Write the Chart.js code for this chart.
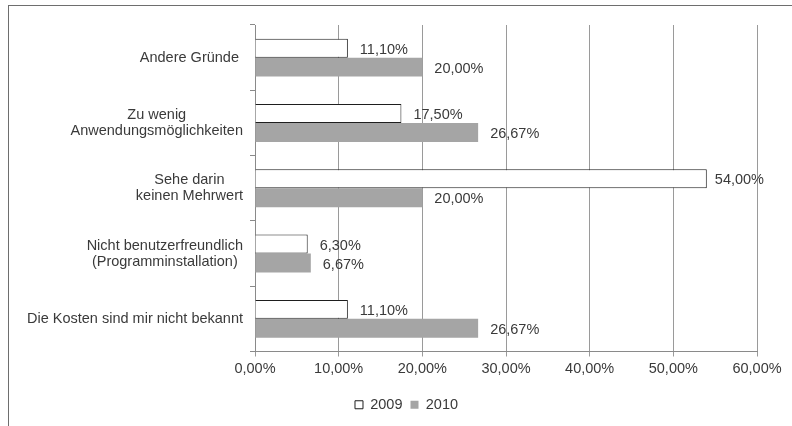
<!DOCTYPE html>
<html>
<head>
<meta charset="utf-8">
<script src="https://cdn.jsdelivr.net/npm/chart.js@4"></script>
<style>
  html, body { margin: 0; padding: 0; background: #fff; }
  #wrap { position: relative; width: 792px; height: 426px; overflow: hidden; }
  #frame { position: absolute; left: 8px; top: 5px; width: 800px; height: 440px;
           border-left: 1px solid #6e6e6e; border-top: 1px solid #6e6e6e; pointer-events: none; }
  canvas { position: absolute; left: 0; top: 0; }
</style>
</head>
<body>
<div id="wrap">
  <canvas id="chart" width="792" height="426"></canvas>
  <div id="frame"></div>
</div>
<script>
// data
const categories = [
  ['Andere Gründe '],
  ['Zu wenig', 'Anwendungsmöglichkeiten'],
  ['Sehe darin', 'keinen Mehrwert'],
  ['Nicht benutzerfreundlich', '(Programminstallation)'],
  ['Die Kosten sind mir nicht bekannt']
];
const seriesNames = ['2009', '2010'];
const values2009 = [11.10, 17.50, 54.00, 6.30, 11.10];
const values2010 = [20.00, 26.67, 20.00, 6.67, 26.67];
const xTicks = [0, 10, 20, 30, 40, 50, 60];

const TEXT = '#3a3a3a';
const FONT_SIZE = 14.5;
const FONT_FAMILY = '"Liberation Sans", Arial, sans-serif';
const FONT = FONT_SIZE + 'px ' + FONT_FAMILY;

function pct(v) {
  return v.toFixed(2).replace('.', ',') + '%';
}

// category labels: block right-aligned at the axis, lines centred in the block
const categoryLabels = {
  id: 'categoryLabels',
  afterDraw(chart) {
    const ctx = chart.ctx;
    const y = chart.scales.y;
    const right = chart.chartArea.left - 12;
    ctx.save();
    ctx.font = FONT;
    ctx.fillStyle = TEXT;
    ctx.textAlign = 'center';
    ctx.textBaseline = 'middle';
    chart.data.labels.forEach((lines, i) => {
      const w = Math.max(...lines.map(l => ctx.measureText(l).width));
      const cx = right - w / 2;
      const cy = y.getPixelForValue(i);
      lines.forEach((l, j) => {
        ctx.fillText(l, cx, cy + (j - (lines.length - 1) / 2) * 16);
      });
    });
    ctx.restore();
  }
};

// value labels at the end of each bar
const valueLabels = {
  id: 'valueLabels',
  afterDatasetsDraw(chart) {
    const ctx = chart.ctx;
    ctx.save();
    ctx.font = FONT;
    ctx.fillStyle = TEXT;
    ctx.textAlign = 'left';
    ctx.textBaseline = 'middle';
    chart.data.datasets.forEach((ds, di) => {
      chart.getDatasetMeta(di).data.forEach((bar, i) => {
        const txt = pct(ds.data[i]);
        const w = ctx.measureText(txt).width;
        const x = Math.min(bar.x + 12, chart.width - 28 - w);
        ctx.fillText(txt, x, bar.y + 1.5);
      });
    });
    ctx.restore();
  }
};

new Chart(document.getElementById('chart'), {
  type: 'bar',
  data: {
    labels: categories,
    datasets: [{
      label: seriesNames[0],
      data: values2009,
      backgroundColor: '#ffffff',
      borderColor: '#1e1e1e',
      borderWidth: 1,
      categoryPercentage: 0.58,
      barPercentage: 1
    }, {
      label: seriesNames[1],
      data: values2010,
      backgroundColor: '#a5a5a5',
      borderColor: '#a5a5a5',
      borderWidth: 0,
      categoryPercentage: 0.58,
      barPercentage: 1
    }]
  },
  options: {
    indexAxis: 'y',
    responsive: false,
    animation: false,
    devicePixelRatio: 1,
    layout: { padding: { top: 25, right: 35, bottom: 4, left: 56 } },
    font: { family: FONT_FAMILY, size: FONT_SIZE },
    plugins: {
      tooltip: { enabled: false },
      legend: {
        position: 'bottom',
        labels: {
          boxWidth: 8,
          boxHeight: 8,
          padding: 8,
          color: TEXT,
          font: { family: FONT_FAMILY, size: FONT_SIZE }
        }
      }
    },
    scales: {
      x: {
        min: xTicks[0],
        max: xTicks[xTicks.length - 1],
        grid: { color: '#9a9a9a', tickLength: 5 },
        border: { color: '#8a8a8a' },
        ticks: {
          stepSize: xTicks[1] - xTicks[0],
          padding: 4,
          color: TEXT,
          font: { family: FONT_FAMILY, size: FONT_SIZE },
          callback: v => pct(v)
        },
        afterFit: s => { s.height = 38; }
      },
      y: {
        grid: { drawOnChartArea: false, tickLength: 5, color: '#8a8a8a' },
        border: { color: '#8a8a8a' },
        ticks: { display: false },
        afterFit: s => { s.width = 199; }
      }
    }
  },
  plugins: [categoryLabels, valueLabels]
});
</script>
</body>
</html>
